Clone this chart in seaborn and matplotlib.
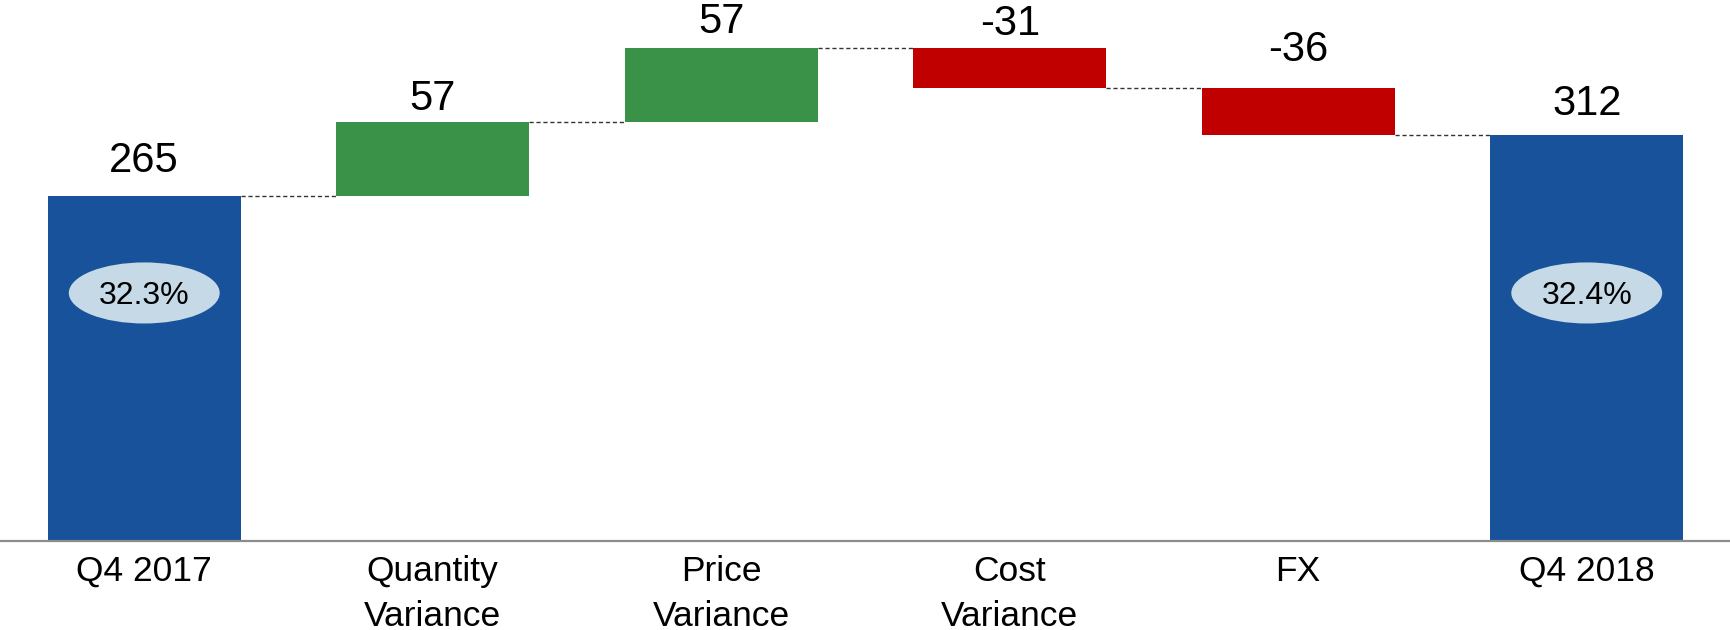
import matplotlib
matplotlib.use("Agg")
import matplotlib.pyplot as plt
from matplotlib.patches import Ellipse
import seaborn as sns
import numpy as np

# Waterfall data: start total, changes, end total
categories = ["Q4 2017", "Quantity\nVariance", "Price\nVariance", "Cost\nVariance", "FX", "Q4 2018"]
changes = [265, 57, 57, -31, -36, 312]
kinds = ["total", "delta", "delta", "delta", "delta", "total"]
margins = {"Q4 2017": "32.3%", "Q4 2018": "32.4%"}

BLUE = "#17529B"
GREEN = "#3A9148"
RED = "#C00000"
ELLIPSE = "#C5DAE6"

# Build floating bar bases and heights
bases, heights, tops, colors = [], [], [], []
running = 0
for val, kind in zip(changes, kinds):
    if kind == "total":
        bases.append(0)
        heights.append(val)
        running = val
        colors.append(BLUE)
    else:
        if val >= 0:
            bases.append(running)
            heights.append(val)
            colors.append(GREEN)
        else:
            bases.append(running + val)
            heights.append(-val)
            colors.append(RED)
        running += val
    tops.append(bases[-1] + heights[-1])
levels = np.cumsum([changes[0]] + changes[1:5]).tolist()

sns.set_theme(style="white")
plt.rcParams["font.family"] = ["Liberation Sans", "DejaVu Sans"]

fig = plt.figure(figsize=(17.31, 6.3), dpi=100)
ax = fig.add_axes([0, 89 / 630, 1, 541 / 630])

bar_w = 0.668
sns.barplot(x=categories, y=heights, bottom=bases, width=bar_w, color=BLUE,
            saturation=1, errorbar=None, ax=ax, linewidth=0)
for patch, c in zip(ax.patches, colors):
    patch.set_facecolor(c)
    patch.set_edgecolor(c)

ax.set_xlim(-0.5, len(categories) - 0.5)
ax.set_ylim(0, 415.5)

# Dashed connectors between consecutive bars
for i, lvl in enumerate(levels):
    ax.plot([i + bar_w / 2, i + 1 - bar_w / 2], [lvl, lvl], color="#333333",
            lw=1.0, ls=(0, (3, 2)), zorder=1)

# Value labels above each bar
label_offsets_px = [24, 12, 15, 13, 27, 20]
for i, (val, top) in enumerate(zip(changes, tops)):
    ax.annotate(f"{val}", xy=(i, top), xytext=(0, label_offsets_px[i] * 0.72),
                textcoords="offset points", ha="center", va="baseline",
                fontsize=30, color="black")

# Margin ellipses on the total bars
for i, cat in enumerate(categories):
    if cat in margins:
        ax.add_patch(Ellipse((i, 190.5), width=0.523, height=46.9,
                             facecolor=ELLIPSE, edgecolor="none", zorder=3))
        ax.text(i, 190.5, margins[cat], ha="center", va="center_baseline",
                fontsize=23, color="black", zorder=4)

ax.set_xlabel("")
ax.set_ylabel("")
ax.set_yticks([])
ax.tick_params(axis="x", length=0, pad=10, labelsize=25.5, labelcolor="black")
for lab in ax.get_xticklabels():
    lab.set_linespacing(1.45)
for side in ["top", "left", "right"]:
    ax.spines[side].set_visible(False)
ax.spines["bottom"].set_color("#8C8C8C")
ax.spines["bottom"].set_linewidth(1.6)
ax.set_facecolor("white")

fig.savefig("out.png", dpi=100, facecolor="white")
